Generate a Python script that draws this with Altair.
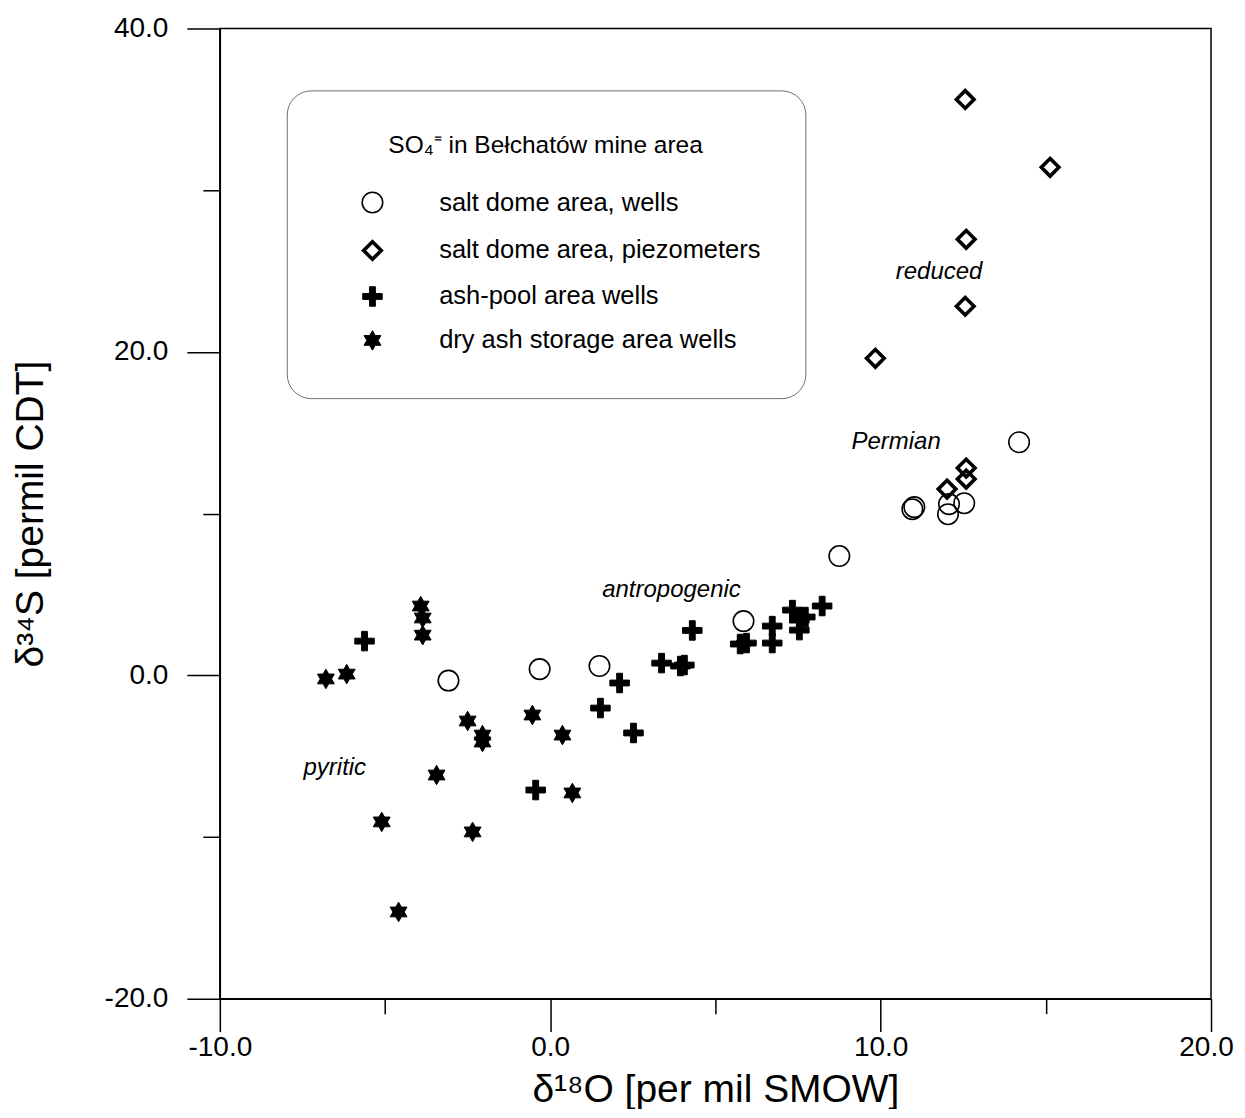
import altair as alt
import pandas as pd

# ---------------- data ----------------
cats = ["salt dome area, wells", "salt dome area, piezometers",
        "ash-pool area wells", "dry ash storage area wells"]

wells_x = [-3.08, -0.32, 1.49, 5.85, 8.75, 10.96, 11.02, 12.04, 12.07, 12.53, 14.19]
wells_y = [-0.33, 0.38, 0.57, 3.35, 7.37, 10.27, 10.40, 9.96, 10.58, 10.64, 14.41]

piezo_x = [12.56, 15.13, 12.59, 12.56, 9.84, 12.59, 12.59, 12.01]
piezo_y = [35.61, 31.41, 26.96, 22.82, 19.60, 12.81, 12.13, 11.51]

ashpool_x = [-5.62, -0.44, 1.52, 2.10, 2.52, 3.37, 3.94, 4.06, 4.30, 5.75, 5.94,
             6.72, 6.72, 7.33, 7.54, 7.72, 7.54, 8.23]
ashpool_y = [2.11, -7.10, -2.03, -0.48, -3.57, 0.75, 0.57, 0.63, 2.77, 1.93, 1.99,
             3.04, 1.99, 4.03, 3.41, 3.60, 2.79, 4.28]

dryash_x = [-6.79, -6.16, -3.92, -3.86, -3.86, -2.50, -2.05, -2.05, -3.44, -5.10,
            -2.35, -4.59, -0.54, 0.37, 0.67]
dryash_y = [-0.23, 0.07, 4.28, 3.54, 2.48, -2.83, -3.70, -4.13, -6.17, -9.07,
            -9.69, -14.64, -2.46, -3.70, -7.28]

note_text = ["reduced", "Permian", "antropogenic", "pyritic"]
note_x = [11.77, 10.47, 3.67, -6.52]
note_y = [24.92, 14.41, 5.27, -5.74]

x_ticks = [-10, -5, 0, 5, 10, 15, 20]
y_ticks = [-20, -10, 0, 10, 20, 30, 40]

# ---------------- tables ----------------
rows = []
for cat, xs, ys in zip(cats, [wells_x, piezo_x, ashpool_x, dryash_x],
                       [wells_y, piezo_y, ashpool_y, dryash_y]):
    for a, b in zip(xs, ys):
        rows.append({"d18O": a, "d34S": b, "group": cat})
pts = pd.DataFrame(rows)
notes = pd.DataFrame({"label": note_text, "d18O": note_x, "d34S": note_y})

FONT = "Liberation Sans, Arial, Helvetica, sans-serif"
PLUS = "M-0.3,-1L0.3,-1L0.3,-0.3L1,-0.3L1,0.3L0.3,0.3L0.3,1L-0.3,1L-0.3,0.3L-1,0.3L-1,-0.3L-0.3,-0.3Z"
STAR = ("M0,-1L0.289,-0.5L0.866,-0.5L0.577,0L0.866,0.5L0.289,0.5L0,1L-0.289,0.5"
        "L-0.866,0.5L-0.577,0L-0.866,-0.5L-0.289,-0.5Z")

xscale = alt.Scale(domain=[-10, 20], nice=False, zero=False)
yscale = alt.Scale(domain=[-20, 40], nice=False, zero=False)

x_axis = alt.Axis(
    values=x_ticks,
    title="δ¹⁸O [per mil SMOW]",
    labelExpr="datum.value % 10 === 0 ? replace(format(datum.value, '.1f'), '\u2212', '-') : ''",
    tickSize={"condition": {"test": "datum.value % 10 === 0", "value": 33}, "value": 15},
    labelOffset={"condition": {"test": "datum.value === 20", "value": -5}, "value": 0},
    labelPadding=2, labelFontSize=28, titleFontSize=39, titlePadding=9,
    labelFlush=False, labelOverlap=False, grid=False,
)
y_axis = alt.Axis(
    values=y_ticks,
    title="δ³⁴S [permil CDT]",
    labelExpr="datum.value % 20 === 0 ? replace(format(datum.value, '.1f'), '\u2212', '-') : ''",
    tickSize={"condition": {"test": "datum.value % 20 === 0", "value": 33}, "value": 17},
    labelPadding=19, labelFontSize=28, titleFontSize=39, titlePadding=54,
    labelFlush=False, labelOverlap=False, grid=False,
)

legend = alt.Legend(
    title="SO₄⁼ in Bełchatów mine area",
    orient="none", legendX=67, legendY=62,
    titleFontSize=24.5, titleFontWeight="normal", titleFont=FONT, titleAnchor="middle",
    titleColor="black", titlePadding=31, titleLimit=600,
    labelFontSize=25.5, labelFont=FONT, labelColor="black", labelOffset=54, labelLimit=600,
    symbolOffset=29, rowPadding=17, padding=44, cornerRadius=24,
    strokeColor="#6f6f6f", fillColor="white",
)

G = "group:N"
points = alt.Chart(pts).mark_point(opacity=1).encode(
    x=alt.X("d18O:Q", scale=xscale, axis=x_axis),
    y=alt.Y("d34S:Q", scale=yscale, axis=y_axis),
    shape=alt.Shape(G, scale=alt.Scale(domain=cats, range=["circle", "diamond", PLUS, STAR]),
                    legend=legend),
    fill=alt.Fill(G, scale=alt.Scale(domain=cats,
                  range=["transparent", "transparent", "black", "black"]), legend=legend),
    stroke=alt.Stroke(G, scale=alt.Scale(domain=cats,
                      range=["black", "black", "black", "black"]), legend=legend),
    size=alt.Size(G, scale=alt.Scale(type="ordinal", domain=cats, range=[420, 310, 380, 380]),
                  legend=legend),
    strokeWidth=alt.StrokeWidth(G, scale=alt.Scale(type="ordinal", domain=cats,
                                range=[1.6, 3.6, 1.0, 1.0]), legend=legend),
)

text = alt.Chart(notes).mark_text(font=FONT, fontSize=24, fontStyle="italic", color="black").encode(
    x=alt.X("d18O:Q", scale=xscale),
    y=alt.Y("d34S:Q", scale=yscale),
    text="label:N",
)

chart = alt.layer(points, text).properties(
    width=992, height=971,
    padding={"left": 212, "top": 20, "right": 26, "bottom": 110},
    autosize=alt.AutoSizeParams(type="none"),
    background="white",
).configure_view(
    stroke="black", strokeWidth=1.5
).configure_axis(
    domainColor="black", domainWidth=1.5, tickColor="black", tickWidth=1.5,
    labelFont=FONT, titleFont=FONT, labelColor="black", titleColor="black",
    titleFontWeight="normal", grid=False,
)

chart.save("out.html", embed_options={"renderer": "svg", "actions": False})
